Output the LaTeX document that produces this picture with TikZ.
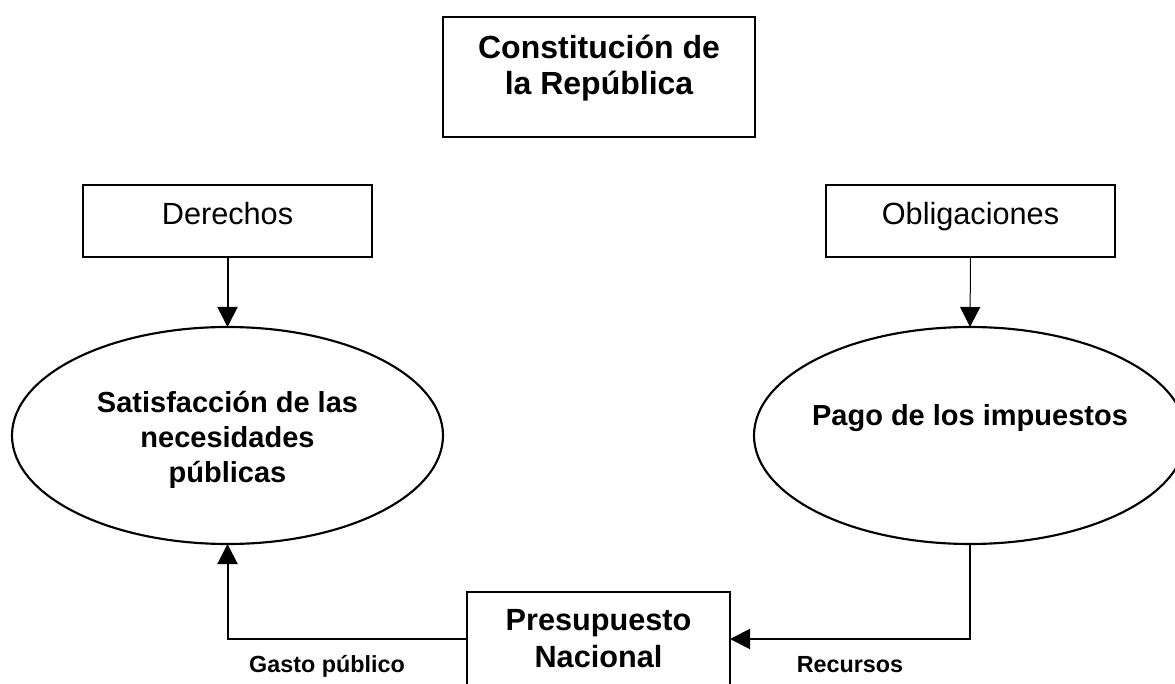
\documentclass[tikz,border=0pt]{standalone}
\usepackage{fontspec}
\setmainfont{Liberation Sans}
\usetikzlibrary{arrows.meta,shapes.geometric}
\tikzset{
  boxnode/.style={draw, line width=1.5pt, rectangle, inner sep=0pt, outer sep=0pt},
  ellnode/.style={draw, line width=1.6pt, ellipse, inner sep=0pt, outer sep=0pt},
  txt/.style={anchor=base, inner sep=0pt},
  arr/.style={-{Triangle[length=15pt,width=15pt]}, line width=1.5pt},
  thinarr/.style={-{Triangle[length=15pt,width=15pt]}, line width=0.75pt},
  bigb/.style={font=\fontsize{24}{28}\selectfont\bfseries},
  midr/.style={font=\fontsize{23}{27}\selectfont},
  midb/.style={font=\fontsize{23}{27}\selectfont\bfseries},
  ellb/.style={font=\fontsize{21.75}{26}\selectfont\bfseries},
  lab/.style={font=\fontsize{17.5}{21}\selectfont\bfseries}
}
\begin{document}
\begin{tikzpicture}[x=0.75pt,y=-0.75pt]
\useasboundingbox (0,0) rectangle (1175,684);
\clip (0,0) rectangle (1175,684);
% top box
\node[boxnode, minimum width=234pt, minimum height=90pt] (const) at (599,77) {};
\node[txt, bigb] (const1) at (599,59) {Constitución de};
\node[txt, bigb] (const2) at (599,95) {la República};
% Derechos / Obligaciones
\node[boxnode, minimum width=216.75pt, minimum height=54pt] (der) at (227.5,221) {};
\node[txt, midr] (dert) at (227.5,225) {Derechos};
\node[boxnode, minimum width=216.75pt, minimum height=54pt] (obl) at (970.5,221) {};
\node[txt, midr] (oblt) at (970.5,225) {Obligaciones};
% ellipses
\node[ellnode, minimum width=323.25pt, minimum height=162.75pt] (sat) at (227.5,435.5) {};
\node[txt, ellb] (sat1) at (227.5,412) {Satisfacción de las};
\node[txt, ellb] (sat2) at (227.5,447) {necesidades};
\node[txt, ellb] (sat3) at (227.5,482) {públicas};
\node[ellnode, minimum width=324pt, minimum height=162.75pt] (pago) at (970,435.5) {};
\node[txt, ellb] (pagot) at (970,425) {Pago de los impuestos};
% bottom box
\node[boxnode, minimum width=197.25pt, minimum height=70.5pt] (pres) at (598.5,639) {};
\node[txt, midb] (pres1) at (598.5,630) {Presupuesto};
\node[txt, midb] (pres2) at (598.5,667) {Nacional};
% connectors
\draw[arr] (der.south) -- (sat.north);
\draw[thinarr] (obl.south) -- (pago.north);
\draw[arr] (pres.west) -| (sat.south);
\draw[arr] (pago.south) |- (pres.east);
% labels
\node[txt, lab] (gasto) at (327,672) {Gasto público};
\node[txt, lab] (rec) at (850,672) {Recursos};
\end{tikzpicture}
\end{document}
